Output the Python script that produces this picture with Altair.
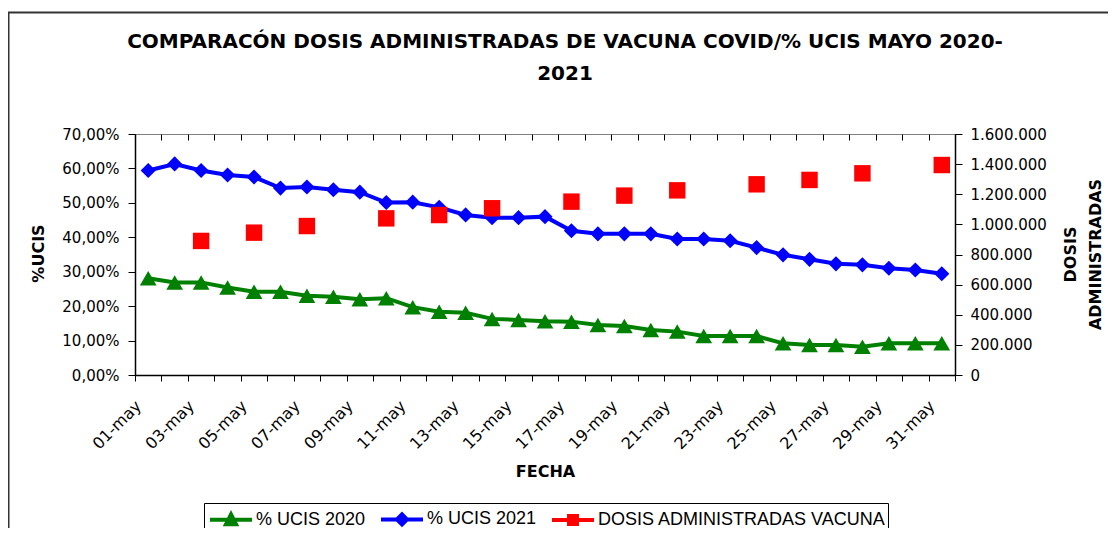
import altair as alt
import pandas as pd

# ---------------- data ----------------
fechas = ["01-may", "02-may", "03-may", "04-may", "05-may", "06-may", "07-may", "08-may",
          "09-may", "10-may", "11-may", "12-may", "13-may", "14-may", "15-may", "16-may",
          "17-may", "18-may", "19-may", "20-may", "21-may", "22-may", "23-may", "24-may",
          "25-may", "26-may", "27-may", "28-may", "29-may", "30-may", "31-may"]
ucis_2020 = [28.1, 26.9, 26.9, 25.4, 24.2, 24.2, 23.0, 22.7, 22.0, 22.3, 19.7, 18.4, 18.1,
             16.3, 16.0, 15.6, 15.5, 14.5, 14.2, 13.1, 12.6, 11.3, 11.3, 11.3, 9.2, 8.7,
             8.7, 8.2, 9.2, 9.2, 9.2]
ucis_2021 = [59.4, 61.3, 59.4, 58.1, 57.5, 54.3, 54.6, 53.8, 53.1, 50.1, 50.2, 48.7, 46.5,
             45.7, 45.7, 46.0, 41.9, 41.0, 41.0, 41.0, 39.5, 39.5, 39.0, 37.0, 34.9, 33.6,
             32.3, 32.0, 31.0, 30.5, 29.4]
fechas_dosis = ["03-may", "05-may", "07-may", "10-may", "12-may", "14-may", "17-may",
                "19-may", "21-may", "24-may", "26-may", "28-may", "31-may"]
dosis = [890000, 945000, 989000, 1040000, 1062000, 1107000, 1151000, 1191000, 1226000,
         1266000, 1295000, 1339000, 1394000]
series = ["% UCIS 2020", "% UCIS 2021", "DOSIS ADMINISTRADAS VACUNA"]
colores = ["#008000", "#0000FF", "#FF0000"]
titulo = ["COMPARACÓN DOSIS ADMINISTRADAS DE VACUNA COVID/% UCIS MAYO 2020-", "2021"]
ticks_ucis = [0, 10, 20, 30, 40, 50, 60, 70]
ticks_dosis = [0, 200000, 400000, 600000, 800000, 1000000, 1200000, 1400000, 1600000]

# legend symbols: line segment + marker
simbolos = [
    "M-1.75,0H1.75M-0.42,0.38L0,-0.45L0.42,0.38Z",
    "M-1.75,0H1.75M-0.42,0L0,-0.42L0.42,0L0,0.42Z",
    "M-1.75,0H1.75M-0.33,-0.33H0.33V0.33H-0.33Z",
]

df20 = pd.DataFrame({"fecha": fechas, "ucis": ucis_2020})
df21 = pd.DataFrame({"fecha": fechas, "ucis": ucis_2021})
dfd = pd.DataFrame({"fecha": fechas_dosis, "dosis": dosis})
dfl = pd.DataFrame({"serie": series})
dfk = pd.DataFrame({"k": [0]})

# ---------------- scales / axes ----------------
x_scale = alt.Scale(type="band", domain=fechas, paddingInner=0, paddingOuter=0)
x_axis = alt.Axis(
    title="FECHA", labelAngle=315, labelAlign="right", labelBaseline="middle",
    labelPadding=22, labelOffset=-10, labelFontSize=16, labelOverlap=False,
    labelExpr="parseInt(slice(datum.label, 0, 2)) % 2 == 1 ? datum.label : ''",
    tickBand="extent", tickSize=6, titleX=410, titleY=101, titleBaseline="alphabetic",
)
x_axis_inner = alt.Axis(
    title=None, labels=False, domain=False, tickBand="extent", tickSize=6, offset=-6,
)
y_scale_l = alt.Scale(domain=[0, 70], nice=False, zero=True)
y_axis_l = alt.Axis(
    title="%UCIS", values=ticks_ucis, tickSize=7, labelPadding=9,
    labelExpr="replace(format(datum.value, '.2f'), '.', ',') + '%'",
    titleAngle=270, titleBaseline="alphabetic", titleX=-92, titleY=119,
)
y_scale_r = alt.Scale(domain=[0, 1600000], nice=False, zero=True)
y_axis_r = alt.Axis(
    orient="right", title=["DOSIS", "ADMINISTRADAS"], values=ticks_dosis, tickSize=7,
    labelPadding=8, labelExpr="join(split(format(datum.value, ',d'), ','), '.')",
    titleAngle=270, titleBaseline="alphabetic", titleX=120, titleY=120, titleLineHeight=25,
)

X = alt.X("fecha:N", scale=x_scale, axis=x_axis)
YL = alt.Y("ucis:Q", scale=y_scale_l, axis=y_axis_l)


def serie_ucis(df, color, shape, size):
    base = alt.Chart(df).encode(x=X, y=YL)
    linea = base.mark_line(color=color, strokeWidth=4)
    puntos = base.mark_point(filled=True, shape=shape, size=size, color=color, opacity=1)
    return [linea, puntos]


izq = alt.layer(*serie_ucis(df20, colores[0], "triangle-up", 280),
                *serie_ucis(df21, colores[1], "diamond", 230))

der = alt.Chart(dfd).mark_point(
    filled=True, shape="square", size=270, color=colores[2], opacity=1
).encode(
    x=alt.X("fecha:N", scale=x_scale, axis=x_axis_inner),
    y=alt.Y("dosis:Q", scale=y_scale_r, axis=y_axis_r),
)

leyenda_def = alt.Legend(
    orient="none", legendX=69, legendY=369, direction="horizontal", title=None,
    symbolSize=576, symbolStrokeWidth=4, symbolOffset=11, labelOffset=11,
    columnPadding=7, padding=2, strokeColor="black", fillColor="white",
    labelFont="Liberation Sans", labelFontSize=18, labelColor="black", labelLimit=500,
)
leyenda = alt.Chart(dfl).transform_filter("false").mark_point(
    filled=True, opacity=1, strokeWidth=4
).encode(
    shape=alt.Shape("serie:N", scale=alt.Scale(domain=series, range=simbolos), legend=leyenda_def),
    fill=alt.Fill("serie:N", scale=alt.Scale(domain=series, range=colores), legend=leyenda_def),
    stroke=alt.Stroke("serie:N", scale=alt.Scale(domain=series, range=colores), legend=leyenda_def),
)

marco = alt.Chart(dfk).mark_rect(
    fillOpacity=0, stroke="#333333", strokeWidth=2
).encode(x=alt.value(-126.5), x2=alt.value(1100), y=alt.value(-121.5), y2=alt.value(700))

titulo_txt = alt.Chart(dfk).mark_text(
    font="DejaVu Sans", fontSize=20, fontWeight="bold", align="center",
    baseline="alphabetic", lineHeight=32.5, color="black",
).encode(x=alt.value(430), y=alt.value(-86.5), text=alt.value(titulo))

chart = alt.layer(marco, titulo_txt, izq, der, leyenda).resolve_scale(
    y="independent"
).resolve_axis(
    x="independent"
).properties(
    width=820, height=241,
    autosize=alt.AutoSizeParams(type="none"),
    padding={"left": 127, "top": 126, "right": 153, "bottom": 153},
    background="white",
).configure_view(
    fill="#C0C0C0", stroke="#808080", strokeWidth=1,
).configure_axis(
    labelFont="DejaVu Sans", labelFontSize=15, labelColor="black",
    titleFont="DejaVu Sans", titleFontSize=16, titleFontWeight="bold", titleColor="black",
    domainColor="black", domainWidth=1.5, tickColor="black", tickWidth=1, grid=False,
)

chart.save("out.html", embed_options={"renderer": "svg", "actions": False})
